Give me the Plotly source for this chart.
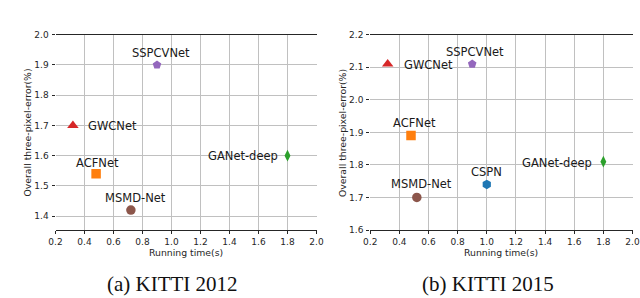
import plotly.graph_objects as go

# ---------------- data ----------------
methods_2012 = ["SSPCVNet", "GWCNet", "ACFNet", "GANet-deep", "MSMD-Net"]
time_2012 = [0.90, 0.32, 0.48, 1.80, 0.72]
err_2012 = [1.90, 1.70, 1.54, 1.60, 1.42]

methods_2015 = ["SSPCVNet", "GWCNet", "ACFNet", "GANet-deep", "CSPN", "MSMD-Net"]
time_2015 = [0.90, 0.32, 0.48, 1.80, 1.00, 0.52]
err_2015 = [2.11, 2.11, 1.89, 1.81, 1.74, 1.70]

x_ticks = [0.2, 0.4, 0.6, 0.8, 1.0, 1.2, 1.4, 1.6, 1.8, 2.0]
x_tick_labels = ["0.2", "0.4", "0.6", "0.8", "1.0", "1.2", "1.4", "1.6", "1.8", "2.0"]
y_ticks_2012 = [1.4, 1.5, 1.6, 1.7, 1.8, 1.9, 2.0]
y_ticks_2015 = [1.6, 1.7, 1.8, 1.9, 2.0, 2.1, 2.2]

captions = ["(a) KITTI 2012", "(b) KITTI 2015"]
x_title = "Running time(s)"
y_title = "Overall three-pixel-error(%)"

# ---------------- styles ----------------
style = {
    "SSPCVNet": dict(color="#9467bd", symbol="pentagon", size=9),
    "GWCNet": dict(color="#d62728", symbol="triangle-up", size=10),
    "ACFNet": dict(color="#ff7f0e", symbol="square", size=9.5),
    "GANet-deep": dict(color="#2ca02c", symbol="diamond-tall", size=8.5),
    "CSPN": dict(color="#1f77b4", symbol="hexagon", size=9.5),
    "MSMD-Net": dict(color="#8c564b", symbol="circle", size=9.5),
}
# label placement: (xanchor, xshift, yshift)
place_2012 = {
    "SSPCVNet": ("center", 3.5, 11.5),
    "GWCNet": ("left", 13, -0.5),
    "ACFNet": ("center", 1.5, 11),
    "GANet-deep": ("right", -8, -0.3),
    "MSMD-Net": ("center", 5, 12),
}
place_2015 = {
    "SSPCVNet": ("center", 3, 12),
    "GWCNet": ("left", 14, -1),
    "ACFNet": ("center", 4, 13),
    "GANet-deep": ("right", -9, -1),
    "CSPN": ("center", 0, 12),
    "MSMD-Net": ("center", 4.7, 13),
}

W, H = 640, 298
FONT = "DejaVu Sans"
GRID = "#c0c0c0"
SPINE = "#262626"

fig = go.Figure()
annotations = []

panels = [
    ("x", "y", methods_2012, time_2012, err_2012, place_2012),
    ("x2", "y2", methods_2015, time_2015, err_2015, place_2015),
]
for xa, ya, names, xs, ys, place in panels:
    for n, xv, yv in zip(names, xs, ys):
        s = style[n]
        fig.add_trace(go.Scatter(
            x=[xv], y=[yv], mode="markers", xaxis=xa, yaxis=ya,
            marker=dict(color=s["color"], symbol=s["symbol"], size=s["size"],
                        line=dict(width=0)),
            showlegend=False, hoverinfo="skip"))
        anc, dx, dy = place[n]
        annotations.append(dict(
            x=xv, y=yv, xref=xa, yref=ya, text=n, showarrow=False,
            xanchor=anc, yanchor="middle", xshift=dx, yshift=dy,
            font=dict(family=FONT, size=11.5, color="#1a1a1a")))

x_minor = [v for v in x_ticks if 0.2 < v < 2.0]


def xaxis(domain, anchor):
    return dict(
        domain=domain, anchor=anchor, range=[0.2, 2.0], automargin=False,
        tickvals=x_ticks, ticktext=x_tick_labels,
        ticks="outside", ticklen=3, tickcolor=SPINE, tickwidth=1,
        tickfont=dict(family=FONT, size=9, color="#262626"),
        showline=True, mirror=True, linecolor=SPINE, linewidth=1.3,
        showgrid=False, zeroline=False,
        minor=dict(tickvals=x_minor, showgrid=True, gridcolor=GRID,
                   gridwidth=1, ticks=""),
        ticklabelstandoff=0,
    )


def yaxis(domain, anchor, rng, ticks):
    return dict(
        domain=domain, anchor=anchor, range=rng, automargin=False,
        tickvals=ticks, ticktext=["%.1f" % t for t in ticks],
        ticks="outside", ticklen=3, tickcolor=SPINE, tickwidth=1,
        tickfont=dict(family=FONT, size=9, color="#262626"),
        showline=False, showgrid=True, gridcolor=GRID, gridwidth=1,
        zeroline=False, ticklabelstandoff=1,
    )


ydom = [1 - 230 / H, 1 - 34.7 / H]
fig.update_layout(
    width=W, height=H, margin=dict(l=0, r=0, t=0, b=0, pad=0, autoexpand=False),
    paper_bgcolor="white", plot_bgcolor="white",
    xaxis=xaxis([55.5 / W, 316.5 / W], "y"),
    yaxis=yaxis(ydom, "x", [1.354, 2.0], y_ticks_2012),
    xaxis2=xaxis([370.2 / W, 632.5 / W], "y2"),
    yaxis2=yaxis(ydom, "x2", [1.6, 2.2], y_ticks_2015),
)

# axis titles
for cx in [(55.5 + 316.5) / 2, (370.2 + 632.5) / 2]:
    annotations.append(dict(
        x=cx / W, y=1 - 252 / H, xref="paper", yref="paper", text=x_title,
        showarrow=False, xanchor="center", yanchor="middle",
        font=dict(family=FONT, size=9.3, color="#262626")))
for cx in [26.5, 342]:
    annotations.append(dict(
        x=cx / W, y=1 - 133 / H, xref="paper", yref="paper", text=y_title,
        showarrow=False, xanchor="center", yanchor="middle", textangle=-90,
        font=dict(family=FONT, size=9.3, color="#262626")))
# captions
for cx, cap in zip([172.2, 488.3], captions):
    annotations.append(dict(
        x=cx / W, y=1 - 284 / H, xref="paper", yref="paper", text=cap,
        showarrow=False, xanchor="center", yanchor="middle",
        font=dict(family="Liberation Serif", size=21, color="#111111")))

fig.update_layout(annotations=annotations)
fig.write_html(
    "out.html",
    config={"displayModeBar": False},
    post_script="document.body.style.margin='0';document.body.style.padding='0';"
                "document.body.style.overflow='hidden';",
)
